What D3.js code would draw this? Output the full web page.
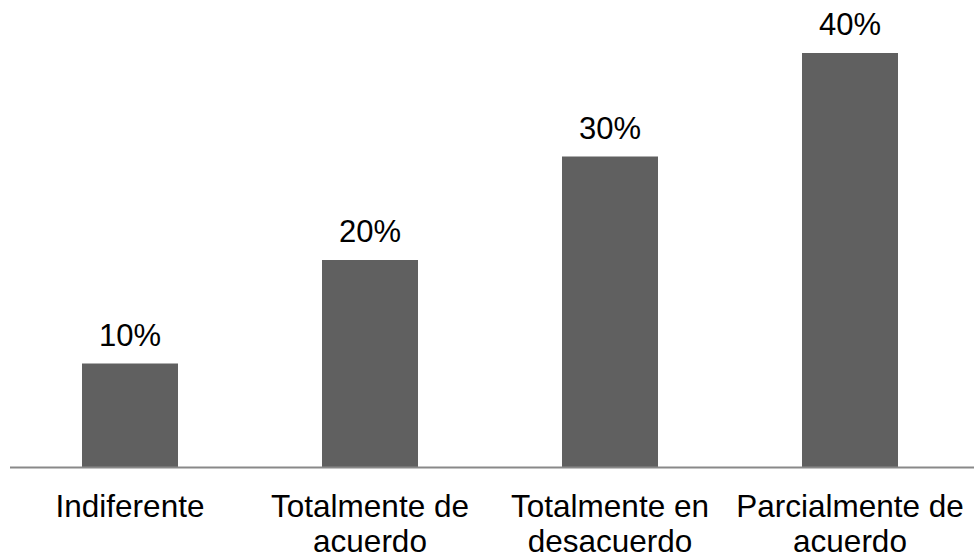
<!DOCTYPE html>
<html>
<head>
<meta charset="utf-8">
<script src="https://cdn.jsdelivr.net/npm/d3@7"></script>
<style>
  body { margin: 0; background: #fff; }
  text { font-family: "Liberation Sans", Arial, sans-serif; fill: #000; }
</style>
</head>
<body>
<div id="chart"></div>
<script>
// data
var categories = ["Indiferente", "Totalmente de acuerdo", "Totalmente en desacuerdo", "Parcialmente de acuerdo"];
var labelLines = [["Indiferente"], ["Totalmente de", "acuerdo"], ["Totalmente en", "desacuerdo"], ["Parcialmente de", "acuerdo"]];
var values = [0.10, 0.20, 0.30, 0.40];

var width = 974, height = 559;

var svg = d3.select("#chart").append("svg")
    .attr("width", width)
    .attr("height", height);

// set the ranges
var x = d3.scaleBand()
    .domain(categories)
    .range([10, 970])
    .paddingInner(0.6)
    .paddingOuter(0.3);

var y = d3.scaleLinear()
    .domain([0, 0.4])
    .range([467, 53]);

var data = categories.map(function(c, i) {
  return {name: c, value: values[i], lines: labelLines[i]};
});

// bars
svg.selectAll(".bar")
    .data(data)
  .enter().append("rect")
    .attr("class", "bar")
    .attr("x", function(d) { return x(d.name); })
    .attr("width", x.bandwidth())
    .attr("y", function(d) { return y(d.value); })
    .attr("height", function(d) { return y(0) - y(d.value); })
    .attr("fill", "#606060");

// value labels
svg.selectAll(".value")
    .data(data)
  .enter().append("text")
    .attr("class", "value")
    .attr("x", function(d) { return x(d.name) + x.bandwidth() / 2; })
    .attr("y", function(d) { return y(d.value) - 18; })
    .attr("text-anchor", "middle")
    .style("font-size", "31px")
    .text(function(d) { return d3.format(".0%")(d.value); });

// x axis line, no ticks
var xAxis = d3.axisBottom(x).tickSize(0).tickFormat("");
var gx = svg.append("g")
    .attr("class", "xAxis")
    .attr("transform", "translate(0," + y(0) + ")")
    .call(xAxis);
gx.select(".domain")
    .attr("d", "M10,0.5H974")
    .attr("stroke", "#898989")
    .attr("stroke-width", 2);

// category labels
var cat = svg.selectAll(".cat")
    .data(data)
  .enter().append("text")
    .attr("class", "cat")
    .attr("text-anchor", "middle")
    .style("font-size", "31.5px");

cat.selectAll("tspan")
    .data(function(d) {
      return d.lines.map(function(l) { return {line: l, cx: x(d.name) + x.bandwidth() / 2}; });
    })
  .enter().append("tspan")
    .attr("x", function(t) { return t.cx; })
    .attr("y", function(t, i) { return 517 + i * 35; })
    .text(function(t) { return t.line; });
</script>
</body>
</html>
